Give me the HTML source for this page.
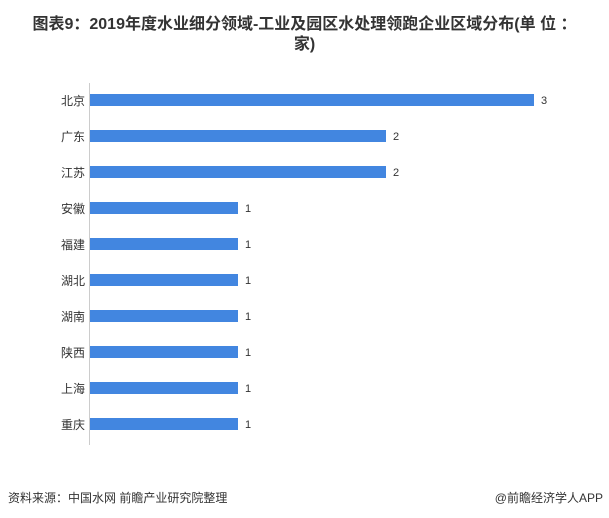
<!DOCTYPE html>
<html><head><meta charset="utf-8"><style>
body{margin:0;width:609px;height:518px;background:#fff;position:relative;overflow:hidden;font-family:"Liberation Sans","Noto Sans CJK SC",sans-serif;}
.t{position:absolute;left:0;width:609px;text-align:center;font-weight:bold;font-size:16px;color:#333;}
.lab{position:absolute;left:40px;width:45px;text-align:right;font-size:12px;color:#333;}
.bar{position:absolute;left:90px;height:12px;background:#4286e0;}
.val{position:absolute;font-size:11px;color:#333;}
.f{position:absolute;top:489px;font-size:12px;color:#333;}
</style></head><body>
<div class="t" style="top:10px">图表9：2019年度水业细分领域-工业及园区水处理领跑企业区域分布(单 位 ：</div>
<div class="t" style="top:30px">家)</div>
<div style="position:absolute;left:89px;top:83px;width:1px;height:362px;background:#ccc"></div>
<div class="lab" style="top:92px">北京</div><div class="bar" style="top:94px;width:444px"></div><div class="val" style="left:541px;top:95px">3</div>
<div class="lab" style="top:128px">广东</div><div class="bar" style="top:130px;width:296px"></div><div class="val" style="left:393px;top:131px">2</div>
<div class="lab" style="top:164px">江苏</div><div class="bar" style="top:166px;width:296px"></div><div class="val" style="left:393px;top:167px">2</div>
<div class="lab" style="top:200px">安徽</div><div class="bar" style="top:202px;width:148px"></div><div class="val" style="left:245px;top:203px">1</div>
<div class="lab" style="top:236px">福建</div><div class="bar" style="top:238px;width:148px"></div><div class="val" style="left:245px;top:239px">1</div>
<div class="lab" style="top:272px">湖北</div><div class="bar" style="top:274px;width:148px"></div><div class="val" style="left:245px;top:275px">1</div>
<div class="lab" style="top:308px">湖南</div><div class="bar" style="top:310px;width:148px"></div><div class="val" style="left:245px;top:311px">1</div>
<div class="lab" style="top:344px">陕西</div><div class="bar" style="top:346px;width:148px"></div><div class="val" style="left:245px;top:347px">1</div>
<div class="lab" style="top:380px">上海</div><div class="bar" style="top:382px;width:148px"></div><div class="val" style="left:245px;top:383px">1</div>
<div class="lab" style="top:416px">重庆</div><div class="bar" style="top:418px;width:148px"></div><div class="val" style="left:245px;top:419px">1</div>
<div class="f" style="left:8px">资料来源：中国水网 前瞻产业研究院整理</div>
<div class="f" style="right:6px">@前瞻经济学人APP</div>
</body></html>
